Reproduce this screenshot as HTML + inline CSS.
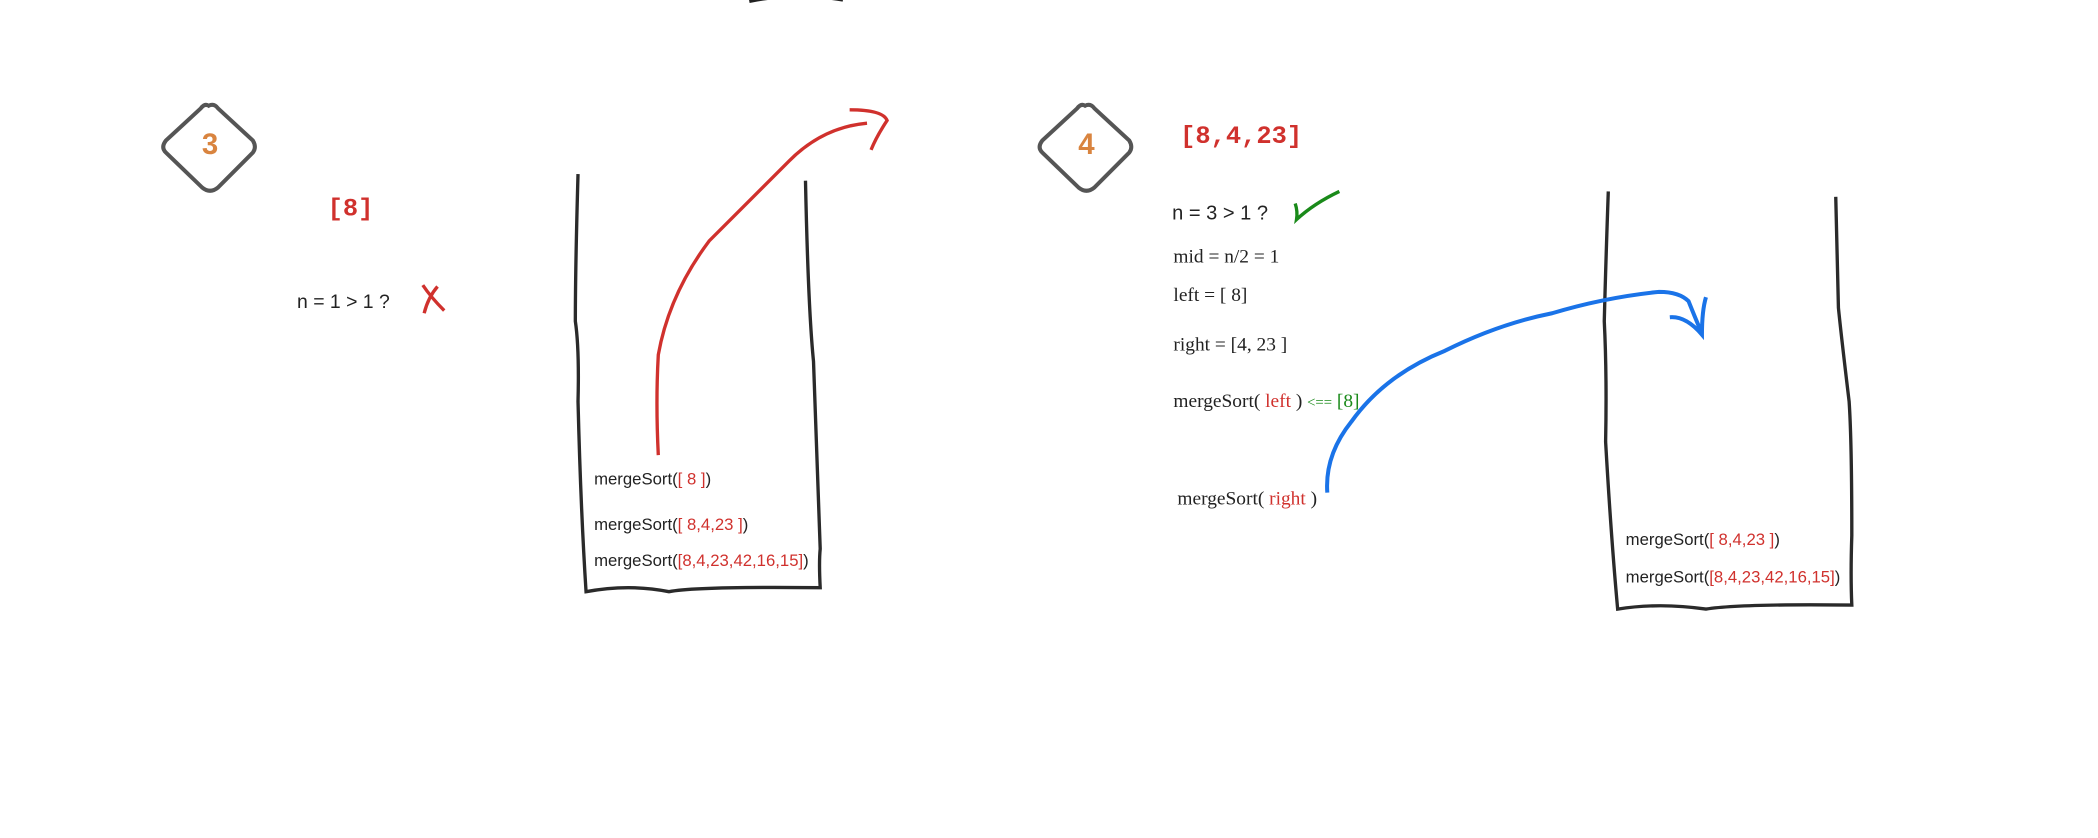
<!DOCTYPE html>
<html><head><meta charset="utf-8"><style>
html,body{margin:0;padding:0;background:#fff;}
svg{display:block;}
.sans{font-family:"Liberation Sans",sans-serif;fill:#222;}
.serif{font-family:"Liberation Serif",serif;fill:#222;}
.mono{font-family:"Liberation Mono",monospace;font-weight:bold;fill:#d0312d;}
.r{fill:#d0312d;}
.g{fill:#1a8a1a;}
</style></head><body>
<svg width="2098" height="838" viewBox="0 0 1568 626" preserveAspectRatio="none">
<path d="M560 1 Q595 -6 630 0" stroke="#222" stroke-width="2.5" fill="none"/>

<g>
<path d="M156 79 Q160 77 163 81 L189 105 Q192 110 189 114 L163 140 Q157 145 151 140 L124 114 Q120 110 124 105 L150 81 Q153 77 156 79Z" stroke="#555" stroke-width="3" fill="none"/>
<text x="157" y="115" text-anchor="middle" font-family="Liberation Sans,sans-serif" font-weight="bold" font-size="22" fill="#d9843f">3</text>
<text x="262" y="161" text-anchor="middle" class="mono" font-size="19">[8]</text>
<text x="222" y="230" class="sans" font-size="14.5">n = 1 &gt; 1 ?</text>
<path d="M316 213 Q322 222 332 232 M327 214 Q320 222 317 234" stroke="#d0312d" stroke-width="2.5" fill="none"/>
<path d="M432 130 Q430 200 430 240 Q433 260 432 300 Q434 380 438 442 Q470 436 500 442 Q520 438 613 439 Q612 420 613 410 Q610 330 608 270 Q604 230 602 135" stroke="#2a2a2a" stroke-width="2.5" fill="none"/>
<path d="M492 340 Q490 300 492 265 Q500 220 530 180 Q560 150 590 120 Q615 95 648 92 M635 82 Q660 82 663 90 Q655 102 651 112" stroke="#d0312d" stroke-width="2.5" fill="none"/>
<text x="444" y="362" class="sans" font-size="12.5">mergeSort(<tspan class="r">[ 8 ]</tspan>)</text>
<text x="444" y="396" class="sans" font-size="12.5">mergeSort(<tspan class="r">[ 8,4,23 ]</tspan>)</text>
<text x="444" y="423" class="sans" font-size="12.5">mergeSort(<tspan class="r">[8,4,23,42,16,15]</tspan>)</text>
</g>

<g>
<path d="M811 79 Q815 77 818 81 L844 105 Q847 110 844 114 L818 140 Q812 145 806 140 L779 114 Q775 110 779 105 L805 81 Q808 77 811 79Z" stroke="#555" stroke-width="3" fill="none"/>
<text x="812" y="115" text-anchor="middle" font-family="Liberation Sans,sans-serif" font-weight="bold" font-size="22" fill="#d9843f">4</text>
<text x="882" y="107" class="mono" font-size="19">[8,4,23]</text>
<text x="876" y="164" class="sans" font-size="15">n = 3 &gt; 1 ?</text>
<path d="M968 152 Q970 158 969 164 Q982 152 1001 143" stroke="#1a8a1a" stroke-width="2.5" fill="none"/>
<text x="877" y="196" class="serif" font-size="14.5">mid = n/2 = 1</text>
<text x="877" y="225" class="serif" font-size="14.5">left = [ 8]</text>
<text x="877" y="262" class="serif" font-size="14.5">right = [4, 23 ]</text>
<text x="877" y="304" class="serif" font-size="14.5">mergeSort( <tspan class="r">left</tspan> )  <tspan class="g" font-size="11">&lt;==</tspan> <tspan class="g">[8]</tspan></text>
<text x="880" y="377" class="serif" font-size="14.5">mergeSort( <tspan class="r">right</tspan> )</text>
<path d="M1202 143 Q1200 200 1199 240 Q1201 280 1200 330 Q1204 400 1209 455 Q1240 450 1275 455 Q1300 451 1384 452 Q1383 430 1384 400 Q1384 330 1382 300 Q1376 250 1374 230 Q1373 190 1372 147" stroke="#2a2a2a" stroke-width="2.5" fill="none"/>
<path d="M992 368 Q990 340 1010 315 Q1035 280 1080 262 Q1120 242 1160 234 Q1200 222 1240 218 Q1255 218 1262 225 Q1268 240 1272 249 M1248 237 Q1260 236 1272 250 Q1272 232 1275 222" stroke="#1a73e8" stroke-width="3" fill="none"/>
<text x="1215" y="407" class="sans" font-size="12.5">mergeSort(<tspan class="r">[ 8,4,23 ]</tspan>)</text>
<text x="1215" y="435" class="sans" font-size="12.5">mergeSort(<tspan class="r">[8,4,23,42,16,15]</tspan>)</text>
</g>
</svg>
</body></html>
